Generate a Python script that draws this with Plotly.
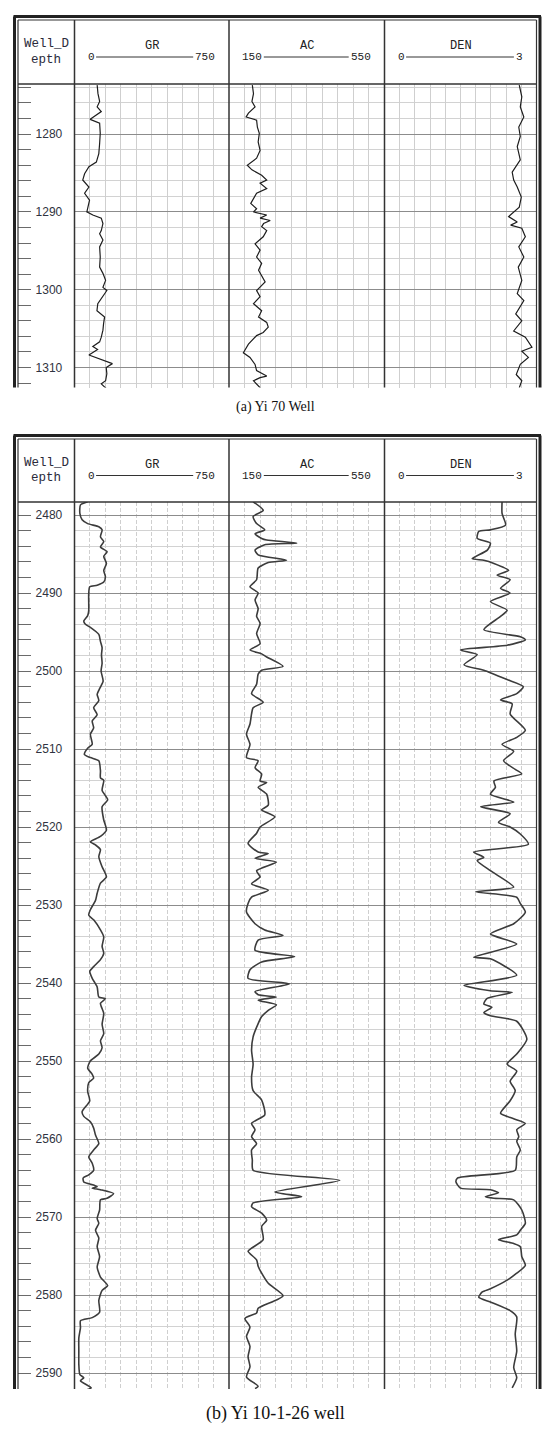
import plotly.graph_objects as go

# ---------------- DATA ----------------
# Panel (a) Yi 70 Well
a_gr_depth = [1273.7,1274.8,1275.8,1276.5,1277.1,1277.8,1278.1,1278.6,1279.9,1281.2,1282.5,1283.6,1284.2,1285.1,1285.9,1286.8,1287.6,1288.5,1289.4,1290.0,1290.4,1290.8,1291.5,1292.4,1292.8,1293.6,1294.5,1295.8,1297.1,1297.9,1298.8,1299.7,1300.1,1300.9,1301.8,1302.7,1303.1,1303.5,1304.4,1305.2,1306.1,1306.7,1307.3,1307.7,1308.4,1308.9,1309.5,1310.0,1310.8,1311.7,1312.1,1312.7]
a_gr = [110,114,122,110,130,89,76,122,125,122,118,106,70,49,40,70,49,73,65,60,89,130,138,130,122,138,122,125,122,138,151,138,157,138,113,109,130,146,141,138,130,122,89,112,70,122,184,154,157,151,130,154]

a_ac_depth = [1273.7,1274.8,1275.8,1276.5,1277.3,1277.8,1278.2,1279.1,1279.9,1281.0,1282.1,1283.1,1284.0,1284.6,1285.3,1285.9,1286.3,1287.0,1287.6,1288.3,1288.9,1289.6,1290.0,1290.4,1290.8,1291.1,1291.5,1291.9,1292.4,1293.2,1294.1,1294.9,1295.8,1296.6,1297.5,1299.0,1300.1,1300.9,1301.8,1302.7,1303.5,1304.2,1304.8,1305.5,1305.9,1307.0,1308.1,1308.7,1309.6,1310.4,1311.1,1311.3,1311.7,1312.6]
a_ac = [210,213,209,217,200,194,221,223,228,225,230,221,197,209,234,247,230,247,221,213,206,221,213,247,230,256,239,234,247,238,217,230,221,234,226,243,221,230,213,234,226,247,251,238,221,200,187,204,217,221,247,230,213,230]

a_den_depth = [1273.7,1275.2,1276.5,1277.8,1279.1,1280.3,1281.6,1283.3,1284.9,1285.9,1286.8,1288.1,1289.4,1290.6,1291.3,1291.7,1292.1,1293.2,1294.5,1295.8,1297.1,1298.8,1300.5,1301.4,1303.1,1304.0,1305.3,1306.1,1307.4,1307.9,1308.7,1309.6,1310.9,1311.7,1312.6]
a_den = [2.66,2.71,2.68,2.75,2.65,2.68,2.62,2.68,2.52,2.55,2.62,2.70,2.66,2.45,2.62,2.49,2.71,2.78,2.65,2.75,2.64,2.71,2.62,2.75,2.59,2.71,2.55,2.78,2.91,2.71,2.84,2.68,2.60,2.71,2.66]

# Panel (b) Yi 10-1-26 well
b_gr_depth = [2478.3,2478.7,2479.8,2480.6,2481.1,2481.5,2481.9,2482.8,2483.4,2484.1,2484.7,2485.3,2486.2,2487.1,2487.9,2488.6,2489.0,2489.2,2490.1,2492.3,2492.9,2493.6,2494.0,2494.4,2495.3,2496.2,2497.0,2497.9,2499.0,2500.0,2501.3,2502.2,2503.0,2503.8,2504.7,2505.6,2506.4,2507.3,2508.1,2509.4,2509.9,2510.7,2511.1,2511.5,2512.8,2513.7,
              2514.0,2515.3,2516.5,2517.4,2519.1,2520.4,2521.2,2521.9,2522.3,2522.9,2523.8,2525.1,2526.4,2527.2,2528.5,2529.4,2530.6,2531.3,2531.9,2533.2,2534.1,2535.3,2536.2,2537.0,2537.9,2538.5,2539.4,2540.5,2541.8,2542.0,2542.6,2543.9,2545.3,2546.5,2547.4,2548.3,2549.1,2550.0,2550.9,2551.7,2552.2,2552.8,2553.9,2555.1,
              2556.5,2557.1,2557.8,2558.6,2559.5,2560.6,2561.4,2562.3,2563.1,2564.0,2564.6,2565.0,2565.5,2565.9,2566.1,2566.3,2566.5,2567.0,2567.6,2567.8,2569.1,2570.2,2570.8,2571.7,2572.7,2573.8,2575.1,2576.4,2577.7,2578.8,2579.4,2580.7,2582.2,2582.9,2583.3,2584.2,2585.5,2587.2,2588.9,2590.2,2590.6,2591.0,2591.9,2592.2]
b_gr = [64,29,26,37,64,118,134,126,142,126,158,142,155,142,150,142,110,74,69,69,64,45,53,77,118,126,134,131,134,129,139,123,110,118,93,110,86,93,77,86,64,48,77,118,126,126,
        142,134,161,134,142,155,126,77,102,126,118,134,155,126,110,102,77,69,93,126,142,134,142,126,93,74,86,110,118,150,126,142,134,142,126,134,118,77,64,86,93,69,64,74,
        37,45,77,93,102,118,93,69,86,93,69,42,45,93,110,86,126,190,158,126,122,110,118,102,118,110,122,110,126,161,134,118,122,86,29,29,21,21,21,26,45,29,81,53]

b_ac_depth = [2478.3,2479.4,2480.2,2481.1,2481.9,2482.4,2483.0,2483.2,2483.6,2483.8,2484.5,2485.1,2485.8,2486.1,2486.8,2488.3,2489.2,2490.0,2490.9,2492.0,2493.0,2493.9,2495.2,2496.5,2497.3,2497.8,2498.2,2499.4,2499.9,2500.4,2501.7,2502.9,2504.0,2504.7,2505.5,2506.8,2508.1,2509.4,2511.1,2511.5,2512.4,2513.2,2514.1,2514.3,2514.9,2515.8,
              2517.2,2517.8,2518.7,2520.0,2520.8,2522.1,2523.2,2523.4,2524.0,2524.5,2525.6,2526.4,2527.3,2528.1,2529.0,2529.8,2530.9,2532.4,2533.2,2533.9,2534.5,2535.8,2536.6,2537.3,2538.3,2539.4,2540.1,2541.1,2541.5,2541.8,2542.2,2542.8,2543.5,2544.3,2545.2,2546.9,2548.6,2550.4,2552.1,2553.8,
              2555.0,2556.9,2558.0,2558.8,2559.7,2560.6,2561.4,2562.7,2564.0,2565.3,2566.8,2567.4,2568.2,2568.7,2569.5,2570.4,2571.2,2572.9,2574.0,2574.4,2575.5,2576.3,2577.2,2578.5,2580.1,2581.7,2582.3,2583.0,2584.1,2585.3,2586.6,2587.9,2589.2,2590.5,2591.7,2592.0]
b_ac = [212,238,212,221,242,217,234,247,324,242,217,225,298,251,225,221,204,225,217,225,221,230,221,230,204,234,247,289,234,225,221,208,238,212,208,204,195,204,195,225,217,234,230,247,225,247,
        251,234,268,230,221,199,225,251,217,272,221,230,208,251,208,199,195,217,242,289,225,217,319,234,204,199,306,217,225,272,225,272,251,234,225,212,208,212,208,212,
        234,242,208,217,208,221,208,210,212,435,268,337,212,208,234,247,234,238,208,199,221,225,234,251,289,225,221,191,204,195,204,199,204,195,225,217]

b_den_depth = [2478.3,2479.8,2481.3,2481.9,2482.1,2483.0,2483.6,2484.5,2485.6,2485.8,2486.2,2487.1,2487.7,2488.3,2489.4,2490.0,2491.1,2492.2,2493.0,2494.7,2495.6,2496.0,2496.7,2497.3,2497.9,2499.2,2499.9,2501.1,2502.0,2502.9,2503.7,2504.2,2505.5,2507.6,2508.5,2509.4,2510.3,2511.5,2512.6,2513.2,2514.1,2514.9,2515.8,
               2516.8,2517.4,2518.3,2519.4,2520.0,2520.9,2522.2,2523.2,2523.9,2524.3,2525.6,2527.7,2528.3,2529.0,2529.8,2530.9,2532.4,2533.7,2535.0,2536.7,2536.9,2539.0,2540.3,2541.0,2541.2,2542.0,2542.7,2543.1,2543.8,2544.2,2544.9,2547.2,2549.1,2550.4,2551.3,2552.6,2553.8,2555.1,
               2556.7,2557.4,2558.0,2558.8,2559.7,2560.3,2561.4,2562.3,2564.0,2565.0,2565.5,2566.3,2566.5,2566.9,2567.4,2567.6,2567.8,2569.1,2570.8,2571.7,2572.3,2572.9,2573.4,2573.8,2575.1,2576.2,2577.2,2578.1,2579.2,2579.6,2580.3,2580.9,2582.0,2582.8,2585.0,2587.2,2589.3,2590.6,2591.9]
b_den = [2.32,2.32,2.39,2.09,1.86,1.83,2.09,2.03,1.73,1.96,2.16,2.45,2.22,2.48,2.29,2.48,2.09,2.42,2.29,1.96,2.68,2.78,2.42,1.50,1.83,1.57,1.96,2.42,2.74,2.61,2.29,2.52,2.48,2.78,2.61,2.32,2.55,2.35,2.58,2.71,2.16,2.19,2.09,
         2.55,1.90,2.48,2.25,2.48,2.68,2.84,1.76,1.96,1.83,2.09,2.55,1.80,2.61,2.68,2.78,2.55,2.09,2.61,1.76,2.09,2.61,1.57,2.09,2.52,2.02,1.96,2.12,1.96,2.09,2.61,2.81,2.61,2.42,2.61,2.48,2.58,2.48,
         2.29,2.55,2.78,2.61,2.65,2.61,2.68,2.61,2.58,1.44,1.41,1.50,2.09,2.25,1.99,2.16,2.55,2.71,2.78,2.68,2.61,2.25,2.55,2.68,2.71,2.78,2.61,2.42,2.09,1.93,1.86,2.09,2.48,2.61,2.58,2.61,2.55,2.61,2.52]

track_names = ["GR", "AC", "DEN"]
track_ranges = [[0, 750], [150, 550], [0, 3]]
track_min_labels = ["0", "150", "0"]
track_max_labels = ["750", "550", "3"]
captions = ["(a) Yi 70 Well", "(b) Yi 10-1-26 well"]
depth_ranges = [[1273.56, 1312.57], [2478.33, 2592.05]]

# ---------------- LAYOUT HELPERS ----------------
W, H = 550, 1436
def px(x): return x / W
def py(y): return 1 - y / H

col_edges = [18, 74.5, 229, 384.5, 536.5]
panels = [
    dict(frame_top=16.5, inner_top=20, head=84, bottom=387.5, cap_y=407, cap_size=14,
         curves=[(a_gr_depth, a_gr), (a_ac_depth, a_ac), (a_den_depth, a_den)],
         lw=1.2, lc="#1e1e1e", shape="linear", griddash="solid"),
    dict(frame_top=435.5, inner_top=439, head=502, bottom=1389, cap_y=1413, cap_size=18,
         curves=[(b_gr_depth, b_gr), (b_ac_depth, b_ac), (b_den_depth, b_den)],
         lw=1.6, lc="#3c3c3c", shape="spline", griddash="4px,2px"),
]

fig = go.Figure()
layout = dict(width=W, height=H, margin=dict(l=0, r=0, t=0, b=0),
              paper_bgcolor="white", plot_bgcolor="white", showlegend=False)
shapes, annotations = [], []

def ann(text, x, y, size, family, color="#222", xanchor="center"):
    annotations.append(dict(text=text, x=px(x), y=py(y), xref="paper", yref="paper",
                            xanchor=xanchor, yanchor="middle", showarrow=False,
                            font=dict(family=family, size=size, color=color)))

for pi, p in enumerate(panels):
    xbase = pi * 4
    ylab = pi * 2 + 1
    ygrid = pi * 2 + 2
    dmin, dmax = depth_ranges[pi]
    ydom = [py(p["bottom"]), py(p["head"])]
    def xname(i): return "x" if i == 1 else f"x{i}"
    def yname(i): return "y" if i == 1 else f"y{i}"
    def xkey(i): return "xaxis" if i == 1 else f"xaxis{i}"
    def ykey(i): return "yaxis" if i == 1 else f"yaxis{i}"

    # depth column
    xi = xbase + 1
    layout[xkey(xi)] = dict(domain=[px(col_edges[0]), px(col_edges[1])], range=[0, 1],
                            anchor=yname(ylab), visible=False, fixedrange=True)
    layout[ykey(ylab)] = dict(domain=ydom, range=[dmax, dmin], anchor=xname(xi), side="left",
                              tick0=0, dtick=10, ticks="inside", ticklen=13, tickwidth=1,
                              tickcolor="#6a6a6a", ticklabelposition="inside", ticklabelstandoff=4,
                              tickfont=dict(family="Liberation Sans, Arial", size=12, color="#2f3340"),
                              minor=dict(dtick=2, ticks="inside", ticklen=13, tickcolor="#6a6a6a", tickwidth=1),
                              showgrid=False, zeroline=False, showline=False)
    fig.add_trace(go.Scatter(x=[0.5], y=[dmin], mode="markers", marker=dict(opacity=0),
                             xaxis=xname(xi), yaxis=yname(ylab), hoverinfo="skip"))
    # grid y axis for tracks
    layout[ykey(ygrid)] = dict(domain=ydom, range=[dmax, dmin], anchor=xname(xbase + 2),
                               matches=yname(ylab), showticklabels=False, ticks="",
                               tick0=0, dtick=10, showgrid=True, gridcolor="#8c8c8c", gridwidth=1,
                               minor=dict(dtick=2, showgrid=True, gridcolor="#d2d2d2", gridwidth=1),
                               zeroline=False, showline=False)
    hc = (p["inner_top"] + p["head"]) / 2
    for t in range(3):
        xi = xbase + 2 + t
        lo, hi = track_ranges[t]
        layout[xkey(xi)] = dict(domain=[px(col_edges[t + 1]), px(col_edges[t + 2])], range=[lo, hi],
                                anchor=yname(ygrid), showticklabels=False, ticks="",
                                dtick=(hi - lo) / 10, tick0=lo, showgrid=True, gridcolor="#cfcfcf",
                                griddash=p["griddash"], gridwidth=1, zeroline=False, showline=False)
        dep, val = p["curves"][t]
        fig.add_trace(go.Scatter(x=val, y=dep, mode="lines", xaxis=xname(xi), yaxis=yname(ygrid),
                                 line=dict(color=p["lc"], width=p["lw"], shape=p["shape"], smoothing=0.6),
                                 hoverinfo="skip"))
        # header
        L, R = col_edges[t + 1], col_edges[t + 2]
        ann(track_names[t], (L + R) / 2, hc - 6, 12, "Liberation Mono")
        ann(track_min_labels[t], L + 11, hc + 5, 11, "Liberation Mono", xanchor="left")
        ann(track_max_labels[t], R - 12, hc + 5, 11, "Liberation Mono", xanchor="right")
        ll = L + 11 + 6.6 * len(track_min_labels[t]) + 4
        rr = R - 12 - 6.6 * len(track_max_labels[t]) - 4
        shapes.append(dict(type="line", xref="paper", yref="paper", x0=px(ll), x1=px(rr),
                           y0=py(hc + 5), y1=py(hc + 5), line=dict(color="#333", width=1)))

    ann("Well_D", 46, hc - 8, 12.5, "Liberation Mono", "#2a2a3a")
    ann("epth", 46, hc + 8, 12.5, "Liberation Mono", "#2a2a3a")

    # frame lines
    def hline(y, x0, x1, w, c="#222"):
        shapes.append(dict(type="line", xref="paper", yref="paper", x0=px(x0), x1=px(x1),
                           y0=py(y), y1=py(y), line=dict(color=c, width=w), layer="above"))
    def vline(x, y0, y1, w, c="#222"):
        shapes.append(dict(type="line", xref="paper", yref="paper", x0=px(x), x1=px(x),
                           y0=py(y0), y1=py(y1), line=dict(color=c, width=w), layer="above"))
    bot = p["bottom"]
    hline(p["frame_top"], 13.5, 541, 3)
    hline(p["inner_top"], 18, 536.5, 1.2, "#333")
    vline(14.5, p["frame_top"], bot, 3)
    vline(18, p["inner_top"], bot, 1.2, "#333")
    vline(540, p["frame_top"], bot, 3)
    vline(536.5, p["inner_top"], bot, 1.2, "#333")
    hline(p["head"], 18, 536.5, 1.5, "#333")
    for xe in col_edges[1:4]:
        vline(xe, p["inner_top"], bot, 1.5, "#333")

    ann(captions[pi], 275, p["cap_y"], p["cap_size"], "Liberation Serif", "#111")

layout["shapes"] = shapes
layout["annotations"] = annotations
fig.update_layout(**layout)
fig.write_html("out.html", config={"displayModeBar": False},
               post_script="document.body.style.margin='0';document.body.style.overflow='hidden';")
